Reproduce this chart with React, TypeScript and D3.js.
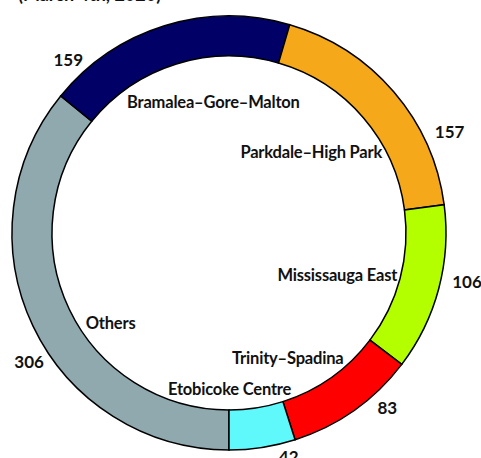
import { useEffect, useRef } from 'react'
import * as d3 from 'd3'

// ridings and case counts, in clockwise order starting at the bottom
const ridings = ['Others', 'Bramalea–Gore–Malton', 'Parkdale–High Park', 'Mississauga East', 'Trinity–Spadina', 'Etobicoke Centre']
const counts = [306, 159, 157, 106, 83, 42]
const colors = ['#8fa9ae', '#000066', '#f5a81a', '#b3ff00', '#ff0000', '#5ff8fb']
const subtitle = '(March 4th, 2020)'

// label nudges from the arc centroids (layout only)
const nameNudge = [[8, 30], [26, 3], [-24, 10], [-27, 6], [-22, 11], [-21, 18]]
const valueNudge = [[15, 27], [-90, 54], [40, 54], [8, -12], [21, -19], [23, -11]]

const W = 481
const H = 458

export default function App() {
  const ref = useRef<SVGSVGElement>(null)

  useEffect(() => {
    const svg = d3.select(ref.current)
    svg.selectAll('*').remove()
    const cx = 229, cy = 233
    const outer = 217, inner = 177

    const rows = ridings.map((name, i) => ({ name, value: counts[i], i }))
    const pie = d3.pie<any>().value(d => d.value).sort(null)
      .startAngle(Math.PI).endAngle(3 * Math.PI)
    const arcs = pie(rows)
    const arc = d3.arc<any>().innerRadius(inner).outerRadius(outer)
    const nameArc = d3.arc<any>().innerRadius(140).outerRadius(140)
    const valueArc = d3.arc<any>().innerRadius(238).outerRadius(238)

    const g = svg.append('g').attr('transform', `translate(${cx},${cy})`)
    g.selectAll('path.slice')
      .data(arcs)
      .join('path')
      .attr('class', 'slice')
      .attr('d', arc)
      .attr('fill', d => colors[d.data.i])
      .attr('stroke', '#000')
      .attr('stroke-width', 1.5)

    const font = "Lato, 'Open Sans', sans-serif"
    g.selectAll('text.name')
      .data(arcs)
      .join('text')
      .attr('class', 'name')
      .attr('x', d => nameArc.centroid(d)[0] + nameNudge[d.data.i][0])
      .attr('y', d => nameArc.centroid(d)[1] + nameNudge[d.data.i][1])
      .attr('dy', '0.35em')
      .attr('text-anchor', 'middle')
      .attr('font-family', font)
      .attr('font-weight', 'bold')
      .attr('font-size', 16.5)
      .attr('letter-spacing', -0.2)
      .attr('fill', '#111')
      .text(d => d.data.name)

    g.selectAll('text.value')
      .data(arcs)
      .join('text')
      .attr('class', 'value')
      .attr('x', d => valueArc.centroid(d)[0] + valueNudge[d.data.i][0])
      .attr('y', d => valueArc.centroid(d)[1] + valueNudge[d.data.i][1])
      .attr('dy', '0.35em')
      .attr('text-anchor', 'middle')
      .attr('font-family', font)
      .attr('font-weight', 'bold')
      .attr('font-size', 17)
      .attr('fill', '#111')
      .text(d => d.data.value)

    svg.append('text')
      .attr('x', 18)
      .attr('y', 1)
      .attr('font-family', font)
      .attr('font-weight', 'bold')
      .attr('font-size', 18)
      .attr('fill', '#111')
      .text(subtitle)
  }, [])

  return (
    <svg ref={ref} width={W} height={H}
      style={{ position: 'absolute', left: 0, top: 0, background: '#fff' }} />
  )
}
